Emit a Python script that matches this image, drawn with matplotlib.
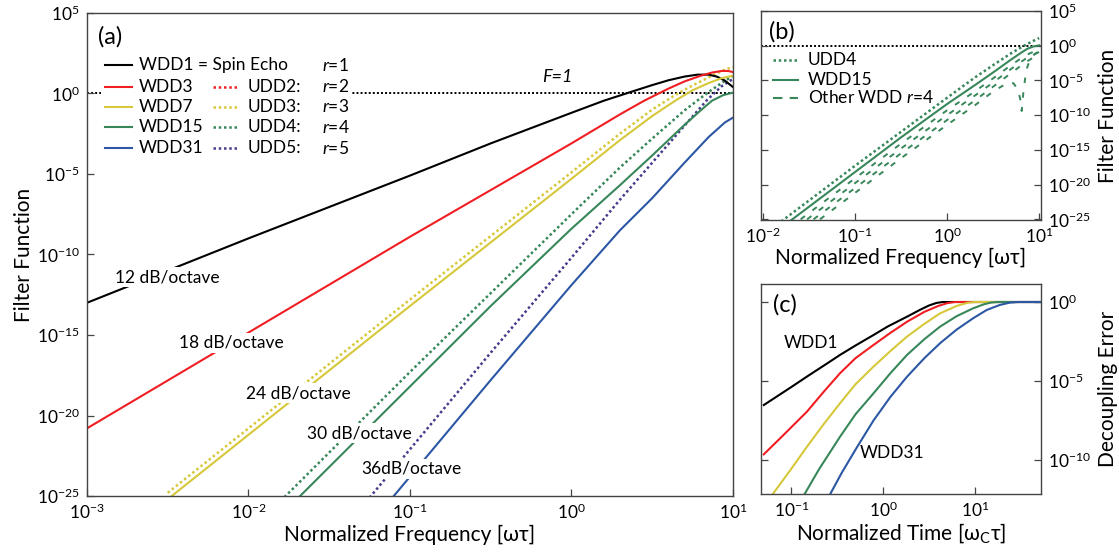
import matplotlib
matplotlib.use("Agg")
import matplotlib.pyplot as plt
import numpy as np
from matplotlib.patches import Rectangle
from matplotlib.ticker import FixedLocator, FuncFormatter, NullLocator

plt.rcParams["font.family"] = ["Lato", "DejaVu Sans"]
plt.rcParams["mathtext.fontset"] = "custom"
plt.rcParams["mathtext.rm"] = "Lato"
plt.rcParams["mathtext.it"] = "Lato:italic"
plt.rcParams["mathtext.sf"] = "Lato"
plt.rcParams["mathtext.fallback"] = "stixsans"
plt.rcParams["mathtext.default"] = "regular"

BLACK = "#000000"
RED = "#f01e23"
YELLOW = "#d6c83a"
GREEN = "#38875a"
BLUE = "#2c57a4"
PURPLE = "#453c8c"
SPINE = "#444444"

# ---- panel (a): log10(omega tau) -> log10(F)
WDD1_LX = [-3, -2, -1, -0.5, 0, 0.2, 0.4, 0.5, 0.6, 0.7, 0.78, 0.85, 0.9, 0.95, 1.0]
WDD1_LF = [-13.0, -9.0, -5.1, -3.1, -1.2, -0.45, 0.2, 0.52, 0.82, 1.05, 1.17, 1.17, 1.05, 0.8, 0.4]
WDD3_LX = [-3, -2, -1, -0.5, 0, 0.3, 0.45, 0.6, 0.7, 0.8, 0.87, 0.93, 0.97, 1.0]
WDD3_LF = [-20.8, -14.85, -8.9, -6.0, -3.1, -1.3, -0.45, 0.3, 0.75, 1.1, 1.3, 1.4, 1.4, 1.33]
WDD7_LX = [-2.5, -2, -1, 0, 0.3, 0.5, 0.65, 0.75, 0.85, 0.93, 1.0]
WDD7_LF = [-25.2, -21.2, -13.2, -5.3, -2.9, -1.4, -0.4, 0.2, 0.65, 0.95, 1.1]
UDD3_LX = [-2.5, -2, -1, 0, 0.3, 0.5, 0.65, 0.75, 0.85, 0.93, 1.0]
UDD3_LF = [-24.8, -20.8, -12.8, -4.9, -2.5, -1.0, -0.05, 0.5, 1.0, 1.4, 1.65]
WDD15_LX = [-1.7, -1.5, -1, -0.5, 0, 0.3, 0.5, 0.7, 0.8, 0.87, 0.94, 1.0]
WDD15_LF = [-25.2, -23.2, -18.2, -13.2, -8.4, -5.7, -3.85, -1.95, -1.05, -0.45, -0.1, 0.05]
UDD4_LX = [-1.8, -1.5, -1, -0.5, 0, 0.3, 0.5, 0.7, 0.85, 0.93, 1.0]
UDD4_LF = [-25.3, -22.3, -17.3, -12.4, -7.5, -4.6, -2.8, -1.05, 0.1, 0.65, 1.1]
UDD5_LX = [-1.25, -1, -0.5, 0, 0.3, 0.5, 0.7, 0.84, 0.93, 1.0]
UDD5_LF = [-25.1, -22.1, -16.1, -10.2, -6.6, -4.3, -2.0, -0.4, 0.45, 0.9]
WDD31_LX = [-1.1, -1, -0.5, 0, 0.3, 0.5, 0.7, 0.85, 0.95, 1.0]
WDD31_LF = [-25.0, -23.8, -17.8, -11.9, -8.5, -6.5, -4.3, -2.7, -1.8, -1.5]

SLOPE_LABELS = ["12 dB/octave", "18 dB/octave", "24 dB/octave", "30 dB/octave", "36dB/octave"]

LEG_WDD = ["WDD1 = Spin Echo", "WDD3", "WDD7", "WDD15", "WDD31"]
LEG_UDD = [None, "UDD2:", "UDD3:", "UDD4:", "UDD5:"]
LEG_R = [1, 2, 3, 4, 5]

# ---- panel (b): other r=4 Walsh sequences (dashed)
OTHER_A_LX = [-1.59, -1, -0.5, 0, 0.3, 0.5, 0.7, 0.85, 1.0]
OTHER_A_LF = [-25.0, -19.1, -14.1, -9.3, -6.6, -4.7, -2.75, -1.4, -0.5]
OTHER_B_LX = [-1.52, -1, -0.5, 0, 0.3, 0.5, 0.7, 0.85, 1.0]
OTHER_B_LF = [-25.0, -19.8, -14.8, -10.0, -7.2, -5.3, -3.3, -1.9, -0.9]
OTHER_C_LX = [-1.45, -1, -0.5, 0, 0.3, 0.5, 0.7, 0.85, 1.0]
OTHER_C_LF = [-25.0, -20.5, -15.5, -10.7, -7.9, -5.9, -3.9, -2.4, -1.2]
OTHER_D_LX = [-1.38, -1, -0.5, 0, 0.3, 0.5, 0.65, 0.72, 0.77, 0.80, 0.81, 0.83, 0.86, 0.9, 0.95, 1.0]
OTHER_D_LF = [-25.0, -21.2, -16.2, -11.4, -8.6, -6.6, -5.4, -5.4, -6.3, -8.0, -9.4, -6.5, -3.5, -2.0, -1.2, -0.8]

# ---- panel (c): log10(omega_c tau) -> log10(decoupling error)
C_WDD1_LX = [-1.30, -1.0, -0.83, -0.6, -0.47, -0.3, -0.105, 0.05, 0.26, 0.40, 0.50, 0.58, 0.65, 1.72]
C_WDD1_LE = [-6.52, -5.38, -4.72, -3.85, -3.35, -2.75, -2.09, -1.55, -0.93, -0.50, -0.22, -0.06, 0.0, 0.0]
C_WDD3_LX = [-1.30, -1.1, -0.83, -0.65, -0.47, -0.3, -0.105, 0.08, 0.26, 0.45, 0.60, 0.70, 0.78, 1.72]
C_WDD3_LE = [-9.64, -8.5, -6.94, -5.7, -4.51, -3.55, -2.72, -1.95, -1.25, -0.62, -0.25, -0.07, 0.0, 0.0]
C_WDD7_LX = [-1.22, -1.0, -0.83, -0.65, -0.47, -0.3, -0.105, 0.08, 0.26, 0.45, 0.62, 0.80, 0.92, 1.00, 1.72]
C_WDD7_LE = [-12.3, -10.55, -9.16, -7.75, -6.41, -5.2, -4.09, -3.1, -2.19, -1.38, -0.72, -0.25, -0.05, 0.0, 0.0]
C_WDD15_LX = [-0.87, -0.7, -0.47, -0.3, -0.105, 0.08, 0.26, 0.45, 0.62, 0.8, 0.98, 1.10, 1.18, 1.25, 1.72]
C_WDD15_LE = [-12.3, -10.6, -8.53, -7.1, -5.78, -4.5, -3.35, -2.35, -1.56, -0.9, -0.40, -0.14, -0.03, 0.0, 0.0]
C_WDD31_LX = [-0.59, -0.45, -0.286, -0.105, 0.08, 0.26, 0.45, 0.62, 0.8, 0.98, 1.13, 1.27, 1.38, 1.47, 1.72]
C_WDD31_LE = [-12.3, -10.8, -9.2, -7.5, -6.0, -4.73, -3.55, -2.61, -1.75, -1.03, -0.5, -0.19, -0.04, 0.0, 0.0]


def pw(values):
    return 10.0 ** np.asarray(values)


def decade_fmt(v, pos):
    return f"$10^{{{int(round(np.log10(v)))}}}$"


def style_axes(ax, xticks, yticks, right=False):
    ax.set_xscale("log")
    ax.set_yscale("log")
    ax.xaxis.set_major_locator(FixedLocator(xticks))
    ax.yaxis.set_major_locator(FixedLocator(yticks))
    ax.xaxis.set_minor_locator(NullLocator())
    ax.yaxis.set_minor_locator(NullLocator())
    ax.xaxis.set_major_formatter(FuncFormatter(decade_fmt))
    ax.yaxis.set_major_formatter(FuncFormatter(decade_fmt))
    ax.tick_params(direction="in", length=5, width=0.9, color=SPINE, labelsize=12.5, pad=5)
    if right:
        ax.tick_params(axis="y", left=True, right=True, labelleft=False, labelright=True)
        ax.yaxis.set_label_position("right")
    for sp in ax.spines.values():
        sp.set_color(SPINE)
        sp.set_linewidth(1.0)


dotted = (0, (1, 1.1))
LW = 1.5
FS = 12.5

fig = plt.figure(figsize=(11.19, 5.55), dpi=100)

# ---------------- panel (a)
ax = fig.add_axes([0.0777, 0.1063, 0.5773, 0.8703])
style_axes(ax, [1e-3, 1e-2, 1e-1, 1e0, 1e1], [10.0 ** k for k in range(-25, 6, 5)])
ax.set_xlim(1e-3, 1e1)
ax.set_ylim(1e-25, 1e5)

ax.axhline(1.0, color=BLACK, ls=dotted, lw=1.4, zorder=1)
ax.plot(pw(UDD3_LX), pw(UDD3_LF), color=YELLOW, ls=dotted, lw=1.8)
ax.plot(pw(UDD4_LX), pw(UDD4_LF), color=GREEN, ls=dotted, lw=1.8)
ax.plot(pw(UDD5_LX), pw(UDD5_LF), color=PURPLE, ls=dotted, lw=1.8)
ax.plot(pw(WDD1_LX), pw(WDD1_LF), color=BLACK, lw=LW)
ax.plot(pw(WDD3_LX), pw(WDD3_LF), color=RED, lw=LW)
ax.plot(pw(WDD7_LX), pw(WDD7_LF), color=YELLOW, lw=LW)
ax.plot(pw(WDD15_LX), pw(WDD15_LF), color=GREEN, lw=LW)
ax.plot(pw(WDD31_LX), pw(WDD31_LF), color=BLUE, lw=LW)

slope_pos = [(0.124, 0.453), (0.224, 0.317), (0.327, 0.213), (0.421, 0.130), (0.502, 0.056)]
for txt, (px, py) in zip(SLOPE_LABELS, slope_pos):
    ax.text(px, py, txt, transform=ax.transAxes, ha="center", va="center", fontsize=FS,
            bbox=dict(facecolor="white", edgecolor="none", pad=1.5), zorder=5)

ax.text(0.7276, 0.868, "F=1", transform=ax.transAxes, ha="center", va="center",
        fontsize=13, style="italic")
ax.text(0.0356, 0.950, "(a)", transform=ax.transAxes, ha="center", va="center", fontsize=17)

# hand-built legend on a white card
ax.add_patch(Rectangle((0.022, 0.697), 0.386, 0.222, transform=ax.transAxes,
                       facecolor="white", edgecolor="none", zorder=6))
leg_colors = [BLACK, RED, YELLOW, GREEN, BLUE]
udd_colors = [None, RED, YELLOW, GREEN, PURPLE]
row_y = [0.892, 0.847, 0.806, 0.763, 0.720]
for i, y in enumerate(row_y):
    ax.plot([0.028, 0.070], [y, y], transform=ax.transAxes, color=leg_colors[i], lw=LW, zorder=7)
    ax.text(0.0805, y, LEG_WDD[i], transform=ax.transAxes, va="center", fontsize=FS, zorder=7)
    if LEG_UDD[i]:
        ax.plot([0.195, 0.232], [y, y], transform=ax.transAxes, color=udd_colors[i],
                ls=dotted, lw=1.8, zorder=7)
        ax.text(0.249, y, LEG_UDD[i], transform=ax.transAxes, va="center", fontsize=FS, zorder=7)
    ax.text(0.364, y, rf"$\mathit{{r}}$={LEG_R[i]}", transform=ax.transAxes, va="center",
            fontsize=FS, zorder=7)

ax.set_xlabel("Normalized Frequency [ωτ]", fontsize=15, labelpad=2)
ax.set_ylabel("Filter Function", fontsize=15, labelpad=2)

# ---------------- panel (b)
bx = fig.add_axes([0.6801, 0.6036, 0.2502, 0.3766])
style_axes(bx, [1e-2, 1e-1, 1e0, 1e1], [10.0 ** k for k in range(-25, 6, 5)], right=True)
bx.set_xlim(10 ** -2.02, 10 ** 1.02)
bx.set_ylim(10 ** -25.1, 1e5)
bx.axhline(1.0, color=BLACK, ls=dotted, lw=1.4, zorder=1)
for lx, lf in [(OTHER_A_LX, OTHER_A_LF), (OTHER_B_LX, OTHER_B_LF),
               (OTHER_C_LX, OTHER_C_LF), (OTHER_D_LX, OTHER_D_LF)]:
    bx.plot(pw(lx), pw(lf), color=GREEN, lw=1.4, dashes=(2.8, 4.8))
bx.plot(pw(UDD4_LX), pw(UDD4_LF), color=GREEN, ls=dotted, lw=1.8)
bx.plot(pw(WDD15_LX), pw(WDD15_LF), color=GREEN, lw=LW)
bx.text(0.075, 0.90, "(b)", transform=bx.transAxes, ha="center", va="center", fontsize=17)
b_rows = [0.766, 0.670, 0.584]
b_labels = ["UDD4", "WDD15", r"Other WDD $\mathit{r}$=4"]
b_styles = [dict(ls=dotted, lw=1.8), dict(ls="-", lw=LW), dict(dashes=(4.5, 3.5), lw=1.5)]
for y, lab, st in zip(b_rows, b_labels, b_styles):
    bx.plot([0.043, 0.132], [y, y], transform=bx.transAxes, color=GREEN, **st)
    bx.text(0.168, y, lab, transform=bx.transAxes, va="center", fontsize=FS)
bx.set_xlabel("Normalized Frequency [ωτ]", fontsize=15, labelpad=1)
bx.set_ylabel("Filter Function", fontsize=15, labelpad=5)

# ---------------- panel (c)
cx = fig.add_axes([0.6801, 0.1099, 0.2502, 0.3784])
style_axes(cx, [1e-1, 1e0, 1e1], [1e-10, 1e-5, 1e0], right=True)
cx.set_xlim(10 ** -1.33, 10 ** 1.72)
cx.set_ylim(10 ** -12.15, 10 ** 1.14)
for lx, le, col in [(C_WDD1_LX, C_WDD1_LE, BLACK), (C_WDD3_LX, C_WDD3_LE, RED),
                    (C_WDD7_LX, C_WDD7_LE, YELLOW), (C_WDD15_LX, C_WDD15_LE, GREEN),
                    (C_WDD31_LX, C_WDD31_LE, BLUE)]:
    cx.plot(pw(lx), pw(le), color=col, lw=LW)
cx.text(0.086, 0.90, "(c)", transform=cx.transAxes, ha="center", va="center", fontsize=17)
cx.text(0.179, 0.719, "WDD1", transform=cx.transAxes, ha="center", va="center", fontsize=FS)
cx.text(0.468, 0.195, "WDD31", transform=cx.transAxes, ha="center", va="center", fontsize=FS)
cx.set_xlabel(r"Normalized Time [$\omega_{\mathregular{C}}\tau$]", fontsize=15, labelpad=1)
cx.set_ylabel("Decoupling Error", fontsize=15, labelpad=5)

fig.savefig("out.png", dpi=100)
